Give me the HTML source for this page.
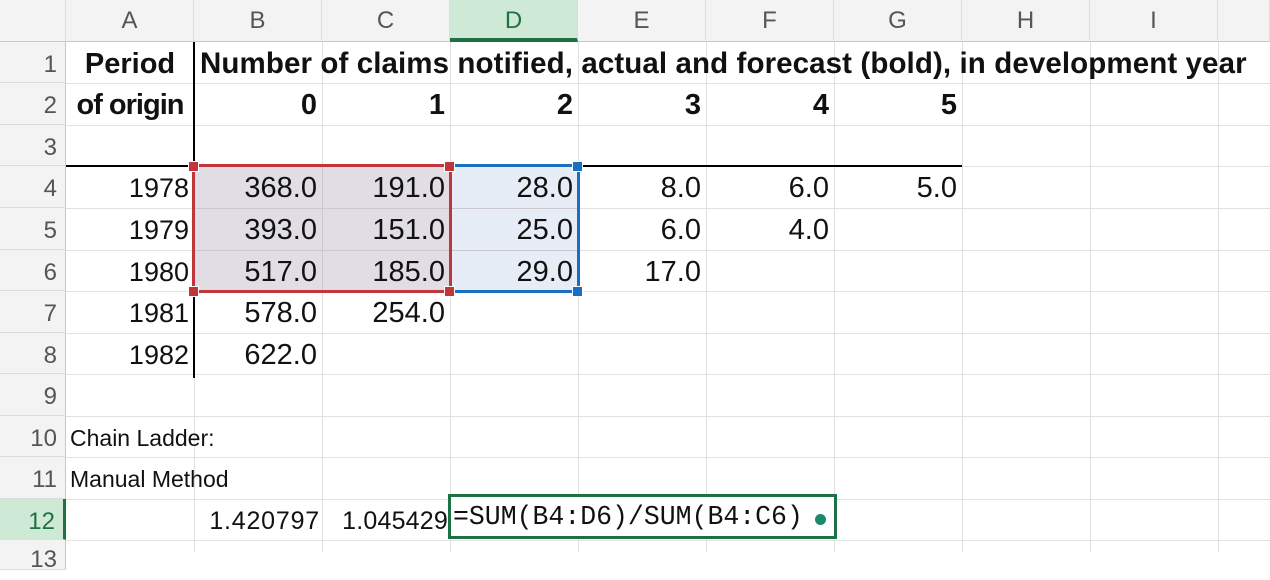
<!DOCTYPE html>
<html><head><meta charset="utf-8"><style>
body{margin:0;width:1270px;height:552px;overflow:hidden;background:#fff;position:relative;font-family:"Liberation Sans",Arial,sans-serif}
div{position:absolute;box-sizing:border-box}
.ch{top:0;height:42px;background:#f3f3f3;border-right:1px solid #dcdcdc;border-bottom:1px solid #c8c8c8;color:#555;font-size:24px;text-align:center;line-height:42px}
.rh{left:0;width:66px;background:#f3f3f3;border-bottom:1px solid #dcdcdc;border-right:1px solid #c8c8c8;color:#555;font-size:24px;text-align:right;padding-right:8px}
.vl{width:1px;background:#e1e1e1;top:42px;height:510px}
.hl{height:1px;background:#e1e1e1;left:66px;width:1204px}
.c{font-size:29px;color:#111;text-align:right;height:41px;line-height:44px;padding-right:5px}
.y{font-size:27px}
.b{font-weight:bold}
.k{font-size:23px;color:#111}
</style></head><body>
<div id="grid" style="left:0;top:0;width:1270px;height:552px"></div>
<script>
const cols=['A','B','C','D','E','F','G','H','I',''];
const colX=[66,194,322,450,578,706,834,962,1090,1218,1270];
const rowY=[42,83,125,166,208,250,291,333,374,416,457,499,540,582];
const g=document.getElementById('grid');
function mk(cls,st,txt){const d=document.createElement('div');d.className=cls;d.setAttribute('style',st);if(txt!==undefined)d.textContent=txt;g.appendChild(d);return d;}
for(let i=1;i<colX.length-1;i++){const v=mk('vl','left:'+colX[i]+'px');

}
for(let r=1;r<rowY.length-1;r++){const h=mk('hl','top:'+rowY[r]+'px');

}
const corner=mk('ch','left:0;width:66px','');


for(let i=0;i<cols.length;i++){const d=mk('ch','left:'+colX[i]+'px;width:'+(colX[i+1]-colX[i])+'px'+(i==3?';background:#cfe9d7;color:#1e7145;border-bottom:4px solid #1e7145':''),cols[i]);

}
for(let r=0;r<12;r++){const d=mk('rh','top:'+rowY[r]+'px;height:'+(rowY[r+1]-rowY[r])+'px;line-height:'+(rowY[r+1]-rowY[r]+4)+'px'+(r==11?';background:#cfe9d7;color:#1e7145;border-right:3px solid #1e7145':''),String(r+1));

}
const r13=mk('rh','top:540px;height:30px;line-height:40px','13');


</script>
<div style="left:194px;top:166px;width:256px;height:125px;background:#e1dde4"></div>
<div style="left:450px;top:166px;width:128px;height:125px;background:#e6edf7"></div>
<div style="left:322px;top:166px;width:1px;height:125px;background:#ccc8cf"></div>
<div style="left:194px;top:208px;width:384px;height:1px;background:#ccc8cf"></div>
<div style="left:194px;top:250px;width:384px;height:1px;background:#ccc8cf"></div>
<div style="left:66px;top:165px;width:896px;height:2px;background:#000"></div>
<div style="left:193px;top:42px;width:2px;height:336px;background:#000"></div>

<div class="c b" style="left:66px;top:42px;width:128px;text-align:center;padding:0">Period</div>
<div class="c b" style="left:66px;top:83px;width:128px;text-align:center;padding:0;letter-spacing:-1px">of origin</div>
<div class="c b" style="left:196px;top:42px;width:1074px;text-align:left;padding:0 0 0 4px;white-space:nowrap;font-size:29.5px;letter-spacing:0.1px">Number of claims notified, actual and forecast (bold), in development year</div>
<div class="c b" style="left:194px;top:83px;width:128px">0</div>
<div class="c b" style="left:322px;top:83px;width:128px">1</div>
<div class="c b" style="left:450px;top:83px;width:128px">2</div>
<div class="c b" style="left:578px;top:83px;width:128px">3</div>
<div class="c b" style="left:706px;top:83px;width:128px">4</div>
<div class="c b" style="left:834px;top:83px;width:128px">5</div>

<div class="c y" style="left:66px;top:166px;width:128px">1978</div>
<div class="c y" style="left:66px;top:208px;width:128px">1979</div>
<div class="c y" style="left:66px;top:250px;width:128px">1980</div>
<div class="c y" style="left:66px;top:291px;width:128px">1981</div>
<div class="c y" style="left:66px;top:333px;width:128px">1982</div>

<div class="c" style="left:194px;top:166px;width:128px">368.0</div>
<div class="c" style="left:322px;top:166px;width:128px">191.0</div>
<div class="c" style="left:450px;top:166px;width:128px">28.0</div>
<div class="c" style="left:578px;top:166px;width:128px">8.0</div>
<div class="c" style="left:706px;top:166px;width:128px">6.0</div>
<div class="c" style="left:834px;top:166px;width:128px">5.0</div>
<div class="c" style="left:194px;top:208px;width:128px">393.0</div>
<div class="c" style="left:322px;top:208px;width:128px">151.0</div>
<div class="c" style="left:450px;top:208px;width:128px">25.0</div>
<div class="c" style="left:578px;top:208px;width:128px">6.0</div>
<div class="c" style="left:706px;top:208px;width:128px">4.0</div>
<div class="c" style="left:194px;top:250px;width:128px">517.0</div>
<div class="c" style="left:322px;top:250px;width:128px">185.0</div>
<div class="c" style="left:450px;top:250px;width:128px">29.0</div>
<div class="c" style="left:578px;top:250px;width:128px">17.0</div>
<div class="c" style="left:194px;top:291px;width:128px">578.0</div>
<div class="c" style="left:322px;top:291px;width:128px">254.0</div>
<div class="c" style="left:194px;top:333px;width:128px">622.0</div>

<div style="left:192px;top:164px;width:260px;height:129px;border:3px solid #c0363a"></div>
<div style="left:450px;top:164px;width:130px;height:129px;border:3px solid #1a6fc0;border-left:none"></div>
<div style="left:188px;top:161px;width:11px;height:11px;background:#c0363a;border:1px solid #fff"></div>
<div style="left:444px;top:161px;width:11px;height:11px;background:#c0363a;border:1px solid #fff"></div>
<div style="left:188px;top:286px;width:11px;height:11px;background:#c0363a;border:1px solid #fff"></div>
<div style="left:444px;top:286px;width:11px;height:11px;background:#c0363a;border:1px solid #fff"></div>
<div style="left:572px;top:161px;width:11px;height:11px;background:#1a6fc0;border:1px solid #fff"></div>
<div style="left:572px;top:286px;width:11px;height:11px;background:#1a6fc0;border:1px solid #fff"></div>

<div class="k" style="left:70px;top:416px;height:41px;line-height:44px;white-space:nowrap">Chain Ladder:</div>
<div class="k" style="left:70px;top:457px;height:41px;line-height:44px;white-space:nowrap">Manual Method</div>
<div class="k" style="left:194px;top:499px;width:126px;height:41px;line-height:44px;text-align:right;font-size:25px;letter-spacing:0.8px">1.420797</div>
<div class="k" style="left:322px;top:499px;width:126px;height:41px;line-height:44px;text-align:right;font-size:25px;letter-spacing:0.2px">1.045429</div>
<div style="left:448px;top:494px;width:389px;height:45px;border:3px solid #1e7145;background:#fff;font-family:'Liberation Mono',monospace;font-size:26.5px;line-height:40px;padding-left:2px;color:#111;white-space:nowrap">=SUM(B4:D6)/SUM(B4:C6)</div>
<div style="left:815px;top:514px;width:11px;height:11px;border-radius:50%;background:#1b8a6b"></div>
</body></html>
